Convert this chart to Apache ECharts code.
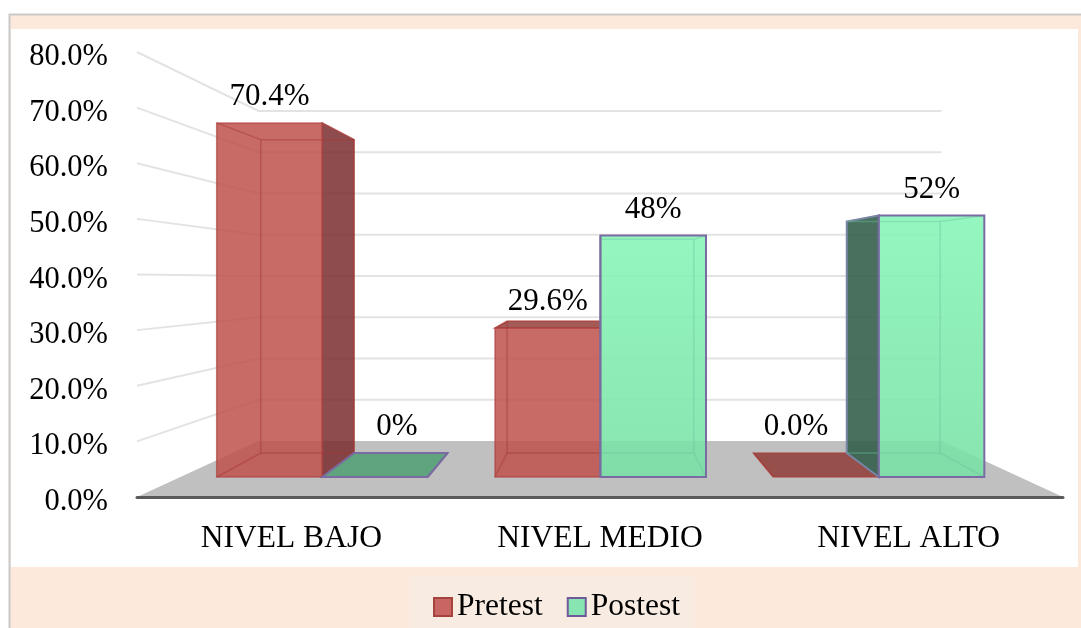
<!DOCTYPE html>
<html>
<head>
<meta charset="utf-8">
<title>Pretest y Postest por nivel</title>
<script src="https://cdn.jsdelivr.net/npm/echarts@6/dist/echarts.min.js"></script>
<style>
  html, body { margin: 0; padding: 0; background: #fff; }
  #chart { width: 1081px; height: 628px; }
</style>
</head>
<body>
<div id="chart"></div>
<script>
// datos
const categories = ['NIVEL BAJO', 'NIVEL MEDIO', 'NIVEL ALTO'];
const pretest = [70.4, 29.6, 0];
const postest = [0, 48, 52];
const pretestLabels = ['70.4%', '29.6%', '0.0%'];
const postestLabels = ['0%', '48%', '52%'];
const axisTicks = [0, 10, 20, 30, 40, 50, 60, 70, 80];

const FONT = '"Liberation Serif", "Times New Roman", serif';

// puntos de fuga del falso 3D (pared del fondo y barras)
const wallView = { x: 600, y: 280.2, kx: 0.7376, ky: 0.7416 };
const barView = { x: 600, y: 268.6, kx: 0.885, ky: 0.885 };
const project = (p, view) => [
  view.x + (p[0] - view.x) * view.kx,
  view.y + (p[1] - view.y) * view.ky
];

const RED = {
  front: 'rgba(190,80,75,0.85)',
  side: 'rgba(122,45,47,0.85)',
  top: 'rgba(140,50,46,0.8)',
  inner: 'rgba(165,55,52,0.45)',
  edge: 'rgba(170,62,58,0.65)',
  edgeWidth: 1.5
};
const GREEN = {
  front: {
    type: 'linear', x: 0, y: 0, x2: 0, y2: 1,
    colorStops: [
      { offset: 0, color: 'rgba(134,245,182,0.88)' },
      { offset: 1, color: 'rgba(120,225,165,0.88)' }
    ]
  },
  side: 'rgba(48,92,72,0.88)',
  top: 'rgba(70,155,110,0.8)',
  inner: 'rgba(105,195,155,0.4)',
  edge: '#7b6ba3',
  edgeWidth: 2
};

// pared, suelo y lineas de la rejilla
function renderWall(params, api) {
  const v = api.value(0);
  const cs = params.coordSys;
  const y = api.coord([0, v])[1];
  const left = [cs.x, y];
  const right = [cs.x + cs.width, y];
  const backLeft = project(left, wallView);
  const backRight = project(right, wallView);
  const children = [{
    type: 'polyline',
    shape: { points: [left, backLeft, backRight] },
    style: { fill: null, stroke: '#e3e3e3', lineWidth: 2 }
  }];
  if (v === 0) {
    children[0] = {
      type: 'polygon',
      shape: { points: [left, right, backRight, backLeft] },
      style: { fill: '#c0c0c0' }
    };
  }
  return { type: 'group', children };
}

// una barra: cara lateral, tapa, frente y aristas interiores
function barRenderer(dir, palette, labels) {
  return function (params, api) {
    const i = api.value(0);
    const v = api.value(1);
    const p = api.coord([i, v]);
    const base = api.coord([i, 0]);
    const w = api.size([1, 0])[0] * 0.379;
    const x0 = dir < 0 ? p[0] - w : p[0];
    const x1 = x0 + w;
    const fl = [x0, p[1]], fr = [x1, p[1]], bl = [x0, base[1]], br = [x1, base[1]];
    const tl2 = project(fl, barView), tr2 = project(fr, barView);
    const bl2 = project(bl, barView), br2 = project(br, barView);
    const center = (x0 + x1) / 2;
    const faceStyle = (fill) => ({ fill, stroke: palette.edge, lineWidth: palette.edgeWidth });
    const children = [];

    if (center < barView.x) {
      children.push({ type: 'polygon', shape: { points: [fr, tr2, br2, br] }, style: faceStyle(palette.side) });
    } else {
      children.push({ type: 'polygon', shape: { points: [fl, tl2, bl2, bl] }, style: faceStyle(palette.side) });
    }
    if (p[1] > barView.y) {
      children.push({ type: 'polygon', shape: { points: [fl, fr, tr2, tl2] }, style: faceStyle(palette.top) });
    }
    if (v > 0) {
      children.push({
        type: 'rect',
        shape: { x: x0, y: p[1], width: w, height: base[1] - p[1] },
        style: { fill: palette.front }
      });
      [[tl2, tr2, br2, bl2, tl2], [fl, tl2], [fr, tr2], [bl, bl2], [br, br2]].forEach((points) => {
        children.push({
          type: 'polyline',
          shape: { points },
          style: { fill: null, stroke: palette.inner, lineWidth: 1.5 }
        });
      });
      children.push({
        type: 'rect',
        shape: { x: x0, y: p[1], width: w, height: base[1] - p[1] },
        style: { fill: null, stroke: palette.edge, lineWidth: palette.edgeWidth }
      });
    }

    // sin altura la etiqueta queda sobre el fondo de la barra
    children.push({
      type: 'text',
      style: {
        text: labels[params.dataIndex],
        x: v > 0 ? center : (tl2[0] + tr2[0]) / 2 - 4,
        y: (v > 0 ? p[1] : tl2[1]) - 26,
        align: 'center',
        verticalAlign: 'middle',
        fill: '#000',
        font: '31px ' + FONT
      }
    });
    return { type: 'group', children };
  };
}

const myChart = echarts.init(document.getElementById('chart'), null, { renderer: 'canvas' });

const option = {
  backgroundColor: '#fff',
  animation: false,
  textStyle: { fontFamily: FONT },
  graphic: [
    {
      type: 'rect', z: -10,
      shape: { x: 9.5, y: 14.5, width: 1100, height: 640 },
      style: { fill: '#fde9dc', stroke: '#c9c9c9', lineWidth: 2 }
    },
    {
      type: 'rect', z: -9,
      shape: { x: 11, y: 29, width: 1067, height: 538 },
      style: { fill: '#fff' }
    }
  ],
  legend: {
    left: 409,
    top: 576,
    padding: [15, 15, 15, 24],
    itemGap: 24,
    itemWidth: 18,
    itemHeight: 18,
    backgroundColor: '#f8ece2',
    textStyle: { fontFamily: FONT, fontSize: 31.5, color: '#000' },
    data: [
      { name: 'Pretest', icon: 'rect', itemStyle: { color: '#c76662', borderColor: '#a5443f', borderWidth: 2 } },
      { name: 'Postest', icon: 'rect', itemStyle: { color: '#86e5b0', borderColor: '#6f5a9a', borderWidth: 2 } }
    ]
  },
  grid: [
    // plano delantero: ejes visibles
    { left: 137, right: 18, top: 52, height: 445 },
    // plano de las barras
    { left: 183, width: 835, top: 74.6, height: 402.4 }
  ],
  xAxis: [
    {
      gridIndex: 0,
      type: 'category',
      data: categories,
      z: 5,
      axisTick: { show: false },
      axisLine: { lineStyle: { color: '#5a5a5a', width: 3 } },
      axisLabel: { color: '#000', fontSize: 31.5, fontFamily: FONT, margin: 26 }
    },
    { gridIndex: 1, type: 'category', data: categories, show: false }
  ],
  yAxis: [
    {
      gridIndex: 0,
      type: 'value',
      min: 0,
      max: 80,
      interval: 10,
      axisLine: { show: false },
      axisTick: { show: false },
      splitLine: { show: false },
      axisLabel: {
        color: '#000',
        fontSize: 30.5,
        fontFamily: FONT,
        margin: 29,
        // etiquetas un poco por debajo de la linea
        verticalAlign: 'top',
        lineHeight: 10,
        formatter: (v) => v.toFixed(1) + '%'
      }
    },
    { gridIndex: 1, type: 'value', min: 0, max: 80, show: false }
  ],
  series: [
    {
      name: 'Pared',
      type: 'custom',
      xAxisIndex: 0,
      yAxisIndex: 0,
      z: 1,
      silent: true,
      data: axisTicks.map((v) => [v]),
      encode: { y: 0 },
      renderItem: renderWall
    },
    {
      name: 'Pretest',
      type: 'custom',
      xAxisIndex: 1,
      yAxisIndex: 1,
      z: 2,
      data: pretest.map((v, i) => [i, v]),
      encode: { x: 0, y: 1 },
      renderItem: barRenderer(-1, RED, pretestLabels)
    },
    {
      name: 'Postest',
      type: 'custom',
      xAxisIndex: 1,
      yAxisIndex: 1,
      z: 3,
      data: postest.map((v, i) => [i, v]),
      encode: { x: 0, y: 1 },
      renderItem: barRenderer(1, GREEN, postestLabels)
    }
  ]
};

myChart.setOption(option);
</script>
</body>
</html>
